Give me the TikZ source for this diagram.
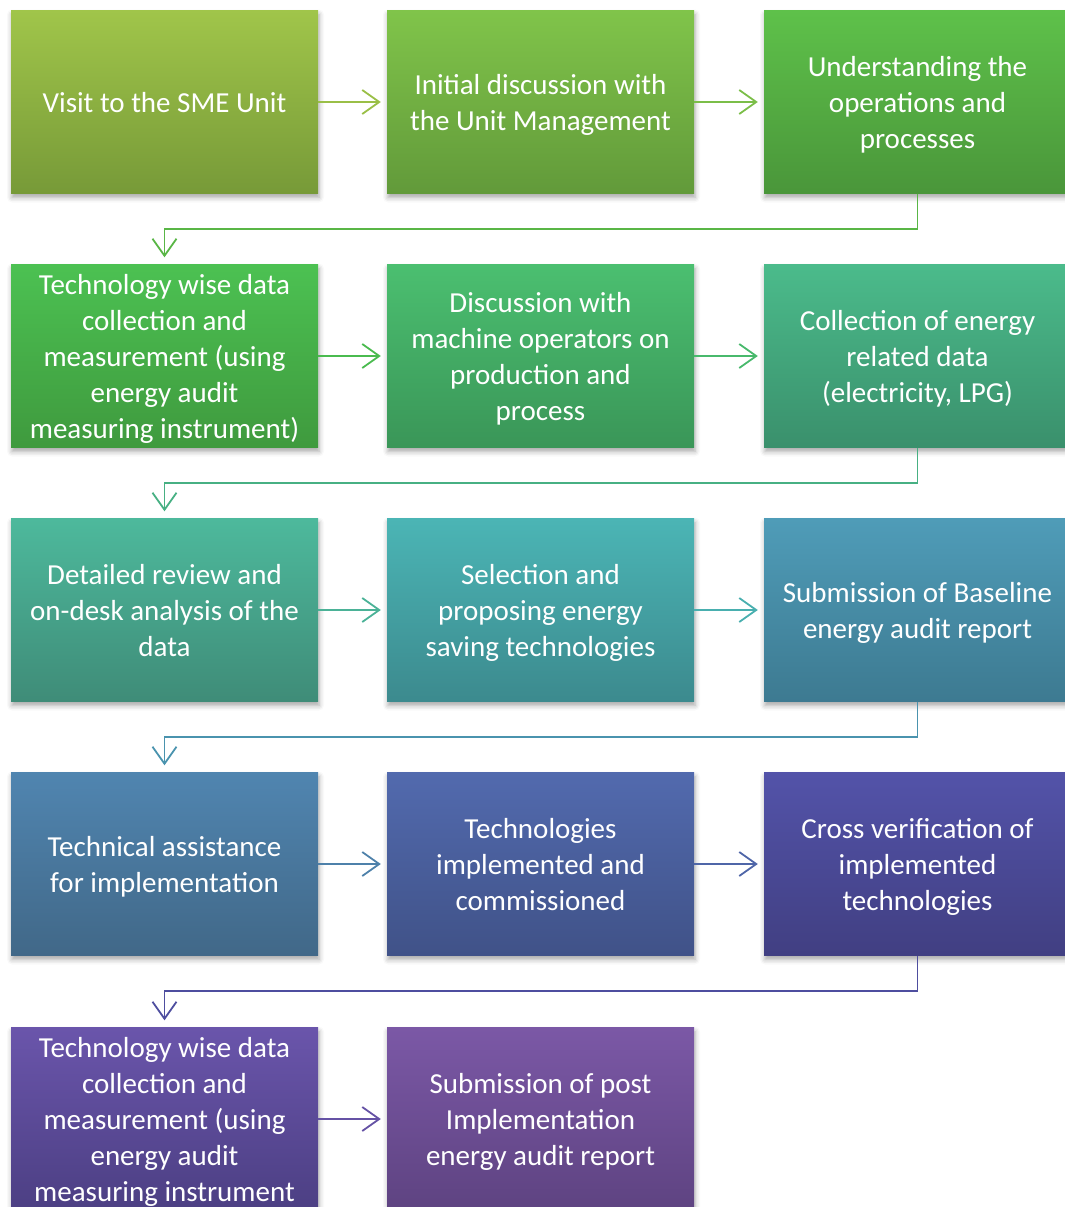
\documentclass[tikz,border=0pt]{standalone}
\usepackage{fontspec}
\setmainfont{Carlito}
\usetikzlibrary{arrows.meta,shadows.blur}
\definecolor{t11}{HTML}{A0C54A}\definecolor{b11}{HTML}{779A38}
\definecolor{t12}{HTML}{80C44A}\definecolor{b12}{HTML}{629A3A}
\definecolor{t13}{HTML}{5EC14A}\definecolor{b13}{HTML}{4A963A}
\definecolor{t21}{HTML}{4CC152}\definecolor{b21}{HTML}{3F9A3E}
\definecolor{t22}{HTML}{4BBF70}\definecolor{b22}{HTML}{3A9658}
\definecolor{t23}{HTML}{4BBB8B}\definecolor{b23}{HTML}{3A906C}
\definecolor{t31}{HTML}{4DB99C}\definecolor{b31}{HTML}{3F8C78}
\definecolor{t32}{HTML}{4BB5B5}\definecolor{b32}{HTML}{3C8A8E}
\definecolor{t33}{HTML}{4F9CB8}\definecolor{b33}{HTML}{3D7A91}
\definecolor{t41}{HTML}{5085B0}\definecolor{b41}{HTML}{416888}
\definecolor{t42}{HTML}{526AAE}\definecolor{b42}{HTML}{405288}
\definecolor{t43}{HTML}{5353A9}\definecolor{b43}{HTML}{413F82}
\definecolor{t51}{HTML}{6A55AB}\definecolor{b51}{HTML}{4C3F83}
\definecolor{t52}{HTML}{7B58A6}\definecolor{b52}{HTML}{5E4381}
\newcommand{\bxt}[1]{\raisebox{0pt}[\dimexpr\height+3.5pt\relax][\dimexpr\depth-3.5pt\relax]{\begin{tabular}{@{}c@{}}#1\end{tabular}}}
\tikzset{
  box/.style={rectangle, minimum width=307pt, minimum height=183pt, inner sep=0pt,
    text=white, font=\fontsize{29}{36}\selectfont,
    shading=axis, top color=t#1, bottom color=b#1,
    blur shadow={shadow xshift=1pt, shadow yshift=-4pt, shadow blur radius=5pt, shadow opacity=35}},
  arr/.style={draw=#1, line width=1.8pt, -{Straight Barb[length=17pt,width=24pt,line width=1.8pt]}}
}
\begin{document}
\begin{tikzpicture}[x=1pt,y=-1pt]
\useasboundingbox (0,0) rectangle (1065,1207);
\clip (0,0) rectangle (1065,1207);
% row 1
\node[box=11] (n11) at (164.5,102) {\bxt{Visit to the SME Unit}};
\node[box=12] (n12) at (540.5,102) {\bxt{Initial discussion with\\the Unit Management}};
\node[box=13] (n13) at (917.5,102) {\bxt{Understanding the\\operations and\\processes}};
% row 2
\node[box=21] (n21) at (164.5,356) {\bxt{Technology wise data\\collection and\\measurement (using\\energy audit\\measuring instrument)}};
\node[box=22] (n22) at (540.5,356) {\bxt{Discussion with\\machine operators on\\production and\\process}};
\node[box=23] (n23) at (917.5,356) {\bxt{Collection of energy\\related data\\(electricity, LPG)}};
% row 3
\node[box=31] (n31) at (164.5,610) {\bxt{Detailed review and\\on-desk analysis of the\\data}};
\node[box=32] (n32) at (540.5,610) {\bxt{Selection and\\proposing energy\\saving technologies}};
\node[box=33] (n33) at (917.5,610) {\bxt{Submission of Baseline\\energy audit report}};
% row 4
\node[box=41] (n41) at (164.5,864) {\bxt{Technical assistance\\for implementation}};
\node[box=42] (n42) at (540.5,864) {\bxt{Technologies\\implemented and\\commissioned}};
\node[box=43] (n43) at (917.5,864) {\bxt{Cross verification of\\implemented\\technologies}};
% row 5
\node[box=51] (n51) at (164.5,1119) {\bxt{Technology wise data\\collection and\\measurement (using\\energy audit\\measuring instrument}};
\node[box=52] (n52) at (540.5,1119) {\bxt{Submission of post\\Implementation\\energy audit report}};
% horizontal arrows
\draw[arr=t11!85!b11] (n11.east) -- ([xshift=-6pt]n12.west);
\draw[arr=t12!85!b12] (n12.east) -- ([xshift=-6pt]n13.west);
\draw[arr=t21!85!b21] (n21.east) -- ([xshift=-6pt]n22.west);
\draw[arr=t22!85!b22] (n22.east) -- ([xshift=-6pt]n23.west);
\draw[arr=t31!85!b31] (n31.east) -- ([xshift=-6pt]n32.west);
\draw[arr=t32!85!b32] (n32.east) -- ([xshift=-6pt]n33.west);
\draw[arr=t41!85!b41] (n41.east) -- ([xshift=-6pt]n42.west);
\draw[arr=t42!85!b42] (n42.east) -- ([xshift=-6pt]n43.west);
\draw[arr=t51!85!b51] (n51.east) -- ([xshift=-6pt]n52.west);
% row connectors
\draw[arr=t13!75!b13] (n13.south) -- ++(0,35) -| ([yshift=7pt]n21.north);
\draw[arr=t23!75!b23] (n23.south) -- ++(0,35) -| ([yshift=7pt]n31.north);
\draw[arr=t33!75!b33] (n33.south) -- ++(0,35) -| ([yshift=7pt]n41.north);
\draw[arr=t43!75!b43] (n43.south) -- ++(0,35) -| ([yshift=7pt]n51.north);
\end{tikzpicture}
\end{document}
